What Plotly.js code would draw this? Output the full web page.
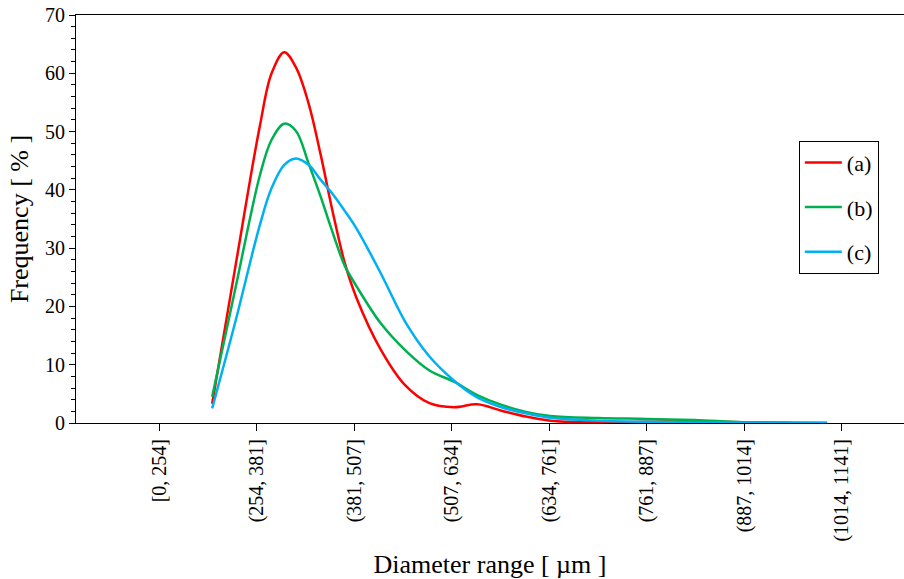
<!DOCTYPE html>
<html>
<head>
<meta charset="utf-8">
<script src="https://cdn.plot.ly/plotly-3.0.1.min.js"></script>
<style>html,body{margin:0;padding:0;background:#fff;}#chart{width:904px;height:579px;}</style>
</head>
<body>
<div id="chart"></div>
<script>
// Category tick labels (positions 0..7 on the x axis)
var tickLabels = ["[0, 254]", "(254, 381]", "(381, 507]", "(507, 634]", "(634, 761]", "(761, 887]", "(887, 1014]", "(1014, 1141]"];
var tickPos = [0, 1, 2, 3, 4, 5, 6, 7];

// Sample positions along the x axis (in category units)
var xPos = [0.54, 0.78, 1.03, 1.15, 1.28, 1.40, 1.53, 1.65, 1.78, 1.90, 2.02, 2.27, 2.52, 2.77, 3.02, 3.26, 3.51, 3.76, 4.01, 4.50, 5.00, 5.49, 5.99, 6.49, 6.85];

// Frequency [%] series
var seriesA = [3.3, 27.0, 51.0, 60.0, 63.6, 61.0, 54.8, 46.3, 36.0, 27.5, 21.5, 12.6, 6.5, 3.4, 2.7, 3.2, 2.1, 1.1, 0.4, 0.15, 0.2, 0.3, 0.1, 0.05, 0];
var seriesB = [4.5, 23.2, 42.5, 48.6, 51.35, 50.1, 44.5, 39.0, 32.5, 27.0, 23.5, 17.1, 12.5, 9.0, 7.1, 4.8, 3.1, 1.9, 1.2, 0.85, 0.7, 0.5, 0.15, 0.02, 0];
var seriesC = [2.5, 17.5, 34.0, 40.3, 44.3, 45.4, 44.3, 41.8, 39.2, 36.4, 33.4, 25.7, 17.4, 11.4, 7.3, 4.4, 2.7, 1.65, 0.9, 0.4, 0.2, 0.1, 0.05, 0.02, 0];

var names = ["(a)", "(b)", "(c)"];
var colors = ["#FF0000", "#00B050", "#00B0F0"];
var allSeries = [seriesA, seriesB, seriesC];

var font = "Liberation Serif, Times New Roman, serif";

var traces = allSeries.map(function (s, i) {
  return {
    x: xPos, y: s, name: names[i], type: "scatter", mode: "lines",
    legendgroup: "g" + i,
    line: {color: colors[i], width: 2.5, shape: "spline", smoothing: 1}
  };
});

var layout = {
  width: 904, height: 579,
  margin: {l: 76, r: 0, t: 15, b: 156},
  paper_bgcolor: "#fff", plot_bgcolor: "#fff",
  font: {family: font, color: "#000", size: 20},
  showlegend: true,
  legend: {
    x: 0.873, y: 0.692, xanchor: "left", yanchor: "top",
    bgcolor: "#fff", bordercolor: "#000", borderwidth: 1,
    font: {family: font, size: 22, color: "#000"},
    traceorder: "grouped", tracegroupgap: 13, itemwidth: 37
  },
  xaxis: {
    range: [-0.857, 7.639], tickmode: "array", tickvals: tickPos, ticktext: tickLabels,
    tickangle: -90, ticks: "outside", ticklen: 7, tickcolor: "#000", tickwidth: 1,
    showline: true, linecolor: "#000", linewidth: 1, mirror: true,
    showgrid: false, zeroline: false,
    tickfont: {family: font, size: 20, color: "#000"},
    title: {text: "Diameter range [ µm ]", font: {family: font, size: 26, color: "#000"}, standoff: 16}
  },
  yaxis: {
    range: [0, 70], dtick: 10, tick0: 0, ticks: "outside", ticklen: 6, tickcolor: "#000", tickwidth: 1,
    minor: {dtick: 2, ticks: "outside", ticklen: 4, tickcolor: "#000", showgrid: false},
    showline: true, linecolor: "#000", linewidth: 1, mirror: false,
    showgrid: false, zeroline: false,
    tickfont: {family: font, size: 20, color: "#000"},
    title: {text: "Frequency [ % ]", font: {family: font, size: 26, color: "#000"}, standoff: 8}
  }
};

Plotly.newPlot("chart", traces, layout, {displayModeBar: false, staticPlot: true});
</script>
</body>
</html>
